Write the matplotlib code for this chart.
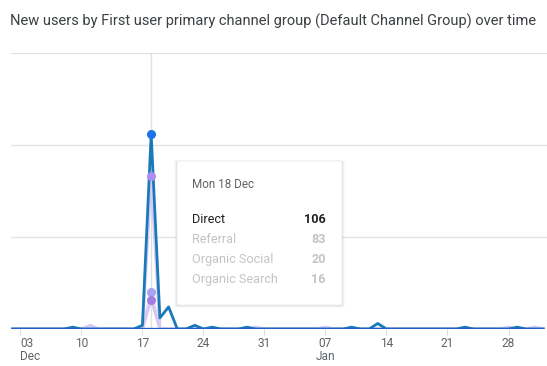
import matplotlib.pyplot as plt
from matplotlib.patches import FancyBboxPatch
import numpy as np
import pandas as pd

plt.rcParams['font.family'] = ['Roboto', 'DejaVu Sans']

dates = pd.date_range('2023-12-02', periods=62, freq='D')

direct = [0, 0, 0, 0, 0, 0, 0, 1, 0, 0,
          0, 0, 0, 0, 0, 2, 106, 6, 12, 0,
          0, 2, 0, 1, 0, 0, 0, 1, 0, 0,
          0, 0, 0, 0, 0, 0, 0, 0, 0, 1,
          0, 0, 3, 0, 0, 0, 0, 0, 0, 0,
          0, 0, 1, 0, 0, 0, 0, 0, 1, 0,
          0, 0]
referral = [0, 0, 0, 0, 0, 0, 0, 0, 0, 2,
            0, 0, 0, 0, 0, 0, 83, 0, 0, 0,
            0, 0, 0, 0, 0, 0, 0, 0, 1, 0,
            0, 0, 0, 0, 0, 0, 1, 0, 0, 0,
            0, 0, 0, 0, 0, 0, 0, 0, 0, 0,
            0, 0, 0, 0, 0, 0, 0, 1, 0, 0,
            1, 0]
organic_social = [0] * 16 + [20] + [0] * 45
organic_search = [0] * 16 + [16] + [0] * 45
other = [0] * 62

hover_date = pd.Timestamp('2023-12-18')
tooltip_rows = [('Direct', 106), ('Referral', 83), ('Organic Social', 20), ('Organic Search', 16)]
tick_dates = pd.date_range('2023-12-03', periods=9, freq='7D')
tick_labels = ['03\nDec', '10', '17', '24', '31', '07\nJan', '14', '21', '28']

fig = plt.figure(figsize=(5.47, 3.66), dpi=100)
ax = fig.add_axes([11/547, 1 - 329/366, 1 - 11/547, (329 - 53)/366])

ax.plot(dates, referral, color='#d6cbf7', lw=2.2, zorder=2)
ax.plot(dates, organic_social, color='#dcd6fa', lw=2.0, zorder=2)
ax.plot(dates, organic_search, color='#d6c6f2', lw=2.0, zorder=2)
ax.plot(dates, direct, color='#1a7ab8', lw=2.0, zorder=3)
ax.plot(dates, other, color='#2160cc', lw=2.4, zorder=4, solid_capstyle='butt')

i = list(dates).index(hover_date)
ax.plot([hover_date], [direct[i]], 'o', color='#1a73e8', ms=5.5, zorder=6)
ax.plot([hover_date], [referral[i]], 'o', color='#a98ff0', ms=5.5, zorder=5)
ax.plot([hover_date], [organic_social[i]], 'o', color='#aaa2f5', ms=5.5, zorder=5)
ax.plot([hover_date], [organic_search[i]], 'o', color='#a17ee0', ms=5.5, zorder=5)
ax.axvline(hover_date, color='#e0e0e0', lw=1, zorder=1)

ax.set_ylim(0, 150)
ax.set_xlim(pd.Timestamp('2023-12-01 22:00'), pd.Timestamp('2023-12-01 22:00') + pd.Timedelta(days=61.5))
ax.set_yticks([50, 100, 150])
ax.set_yticklabels([])
ax.tick_params(axis='y', length=0)
ax.grid(True, axis='y', color='#e3e3e3', lw=1)
ax.set_axisbelow(True)
for s in ax.spines.values():
    s.set_visible(False)

ax.set_xticks(tick_dates)
ax.set_xticklabels(tick_labels, fontsize=8.6, color='#5f6368', ha='center', linespacing=0.95)
ax.get_xticklabels()[0].set_horizontalalignment('left')
ax.tick_params(axis='x', length=4, width=0.8, color='#dadce0', pad=2)

fig.text(10/547, 1 - 21/366, 'New users by First user primary channel group (Default Channel Group) over time',
         fontsize=10.55, color='#3c4043', va='center', ha='left')

# tooltip
x0, x1, y0, y1 = 177/547, 342/547, 1 - 305/366, 1 - 161/366
for k, a in enumerate([0.05, 0.04, 0.03]):
    d = (k + 1) * 0.0025
    fig.patches.append(FancyBboxPatch((x0 - d * 0.6, y0 - d), x1 - x0 + d * 1.2, y1 - y0 + d * 1.2,
                                      boxstyle='round,pad=0,rounding_size=0.004', transform=fig.transFigure,
                                      facecolor='black', edgecolor='none', alpha=a, zorder=8))
fig.patches.append(FancyBboxPatch((x0, y0), x1 - x0, y1 - y0, boxstyle='round,pad=0,rounding_size=0.004',
                                  transform=fig.transFigure, facecolor='white', edgecolor='#ececec',
                                  lw=0.6, zorder=9))
fig.text(192/547, 1 - 185/366, 'Mon 18 Dec', fontsize=8.4, color='#5f6368', va='center', ha='left', zorder=10)
row_y = [219.3, 239.3, 259.3, 279.3]
for (name, val), yy in zip(tooltip_rows, row_y):
    c = '#202124' if name == 'Direct' else '#c4c4c4'
    fig.text(192/547, 1 - yy/366, name, fontsize=9.1, color=c, va='center', ha='left', zorder=10)
    fig.text(326/547, 1 - yy/366, str(val), fontsize=9.1, color=c, va='center', ha='right',
             fontweight='bold', zorder=10)

fig.savefig('out.png', dpi=100)
